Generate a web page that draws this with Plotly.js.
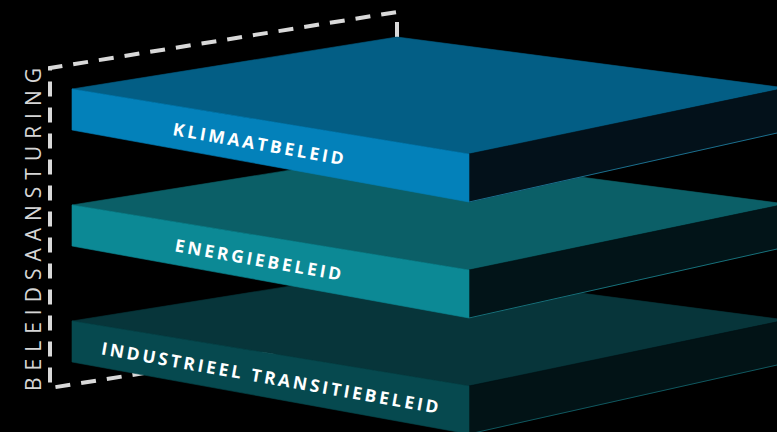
<!DOCTYPE html>
<html>
<head>
<meta charset="utf-8">
<script src="https://cdn.plot.ly/plotly-3.0.1.min.js"></script>
<style>html,body{margin:0;padding:0;background:#000;}#chart{width:777px;height:432px;}</style>
</head>
<body>
<div id="chart"></div>
<script>
// ---- data ----
const layers = ['KLIMAATBELEID', 'ENERGIEBELEID', 'INDUSTRIEEL TRANSITIEBELEID'];
const frontColors = ['#0381BA', '#0C8995', '#06494F'];
const topColors = ['#035E85', '#0B5F67', '#07353A'];
const sideColors = ['#03111A', '#021418', '#021316'];
const edgeColors = ['#1B6E8C', '#17707A', '#10575E'];
const axisLabel = 'BELEIDSAANSTURING';

// ---- drawing geometry (pixel-space axes) ----
const W = 777, H = 432;
const STEP = 116;            // vertical spacing between layers
const slab = {               // template for the top layer
  front: [[72, 89], [469, 154], [469, 202], [72, 130]],
  top:   [[72, 89], [397, 37], [786, 88], [469, 154]],
  side:  [[469, 154], [786, 88], [786, 131], [469, 202]],
  edge:  [[469, 202], [786, 131]]
};
const labelPos = [[258, 143], [258, 259], [270, 377]];

function poly(pts, dy, color) {
  const xs = pts.map(p => p[0]), ys = pts.map(p => p[1] + dy);
  xs.push(xs[0]); ys.push(ys[0]);
  return {x: xs, y: ys, type: 'scatter', mode: 'lines', fill: 'toself',
          fillcolor: color, line: {color: color, width: 0.6},
          hoverinfo: 'skip', showlegend: false};
}
function spaced(s, sep, wordSep) {
  return s.split('').map(c => c === ' ' ? wordSep : c).join(sep);
}

const traces = [];
// dashed back frame
traces.push({
  x: [397, 397, 50, 50, 397], y: [37, 12, 68, 388, 333],
  type: 'scatter', mode: 'lines',
  line: {color: '#d9d9d9', width: 4, dash: '15px,11px'},
  hoverinfo: 'skip', showlegend: false
});
// slabs, back to front (bottom layer first)
for (let i = layers.length - 1; i >= 0; i--) {
  const dy = i * STEP;
  traces.push(poly(slab.top, dy, topColors[i]));
  traces.push(poly(slab.side, dy, sideColors[i]));
  traces.push(poly(slab.front, dy, frontColors[i]));
  traces.push({
    x: slab.edge.map(p => p[0]), y: slab.edge.map(p => p[1] + dy),
    type: 'scatter', mode: 'lines', line: {color: edgeColors[i], width: 1},
    hoverinfo: 'skip', showlegend: false
  });
}

const annotations = layers.map((name, i) => ({
  x: labelPos[i][0], y: labelPos[i][1], xref: 'x', yref: 'y',
  text: spaced(name, '\u2009', '\u00A0'),
  showarrow: false, textangle: 10, xanchor: 'center', yanchor: 'middle',
  font: {family: 'Open Sans', size: 17.5, color: '#ffffff', weight: 'bold'}
}));
annotations.push({
  x: 33, y: 230, xref: 'x', yref: 'y',
  text: spaced(axisLabel, '\u2004', '\u2004\u2004'),
  showarrow: false, textangle: -90, xanchor: 'center', yanchor: 'middle',
  font: {family: 'Open Sans', size: 21, color: '#d6d6d6'}
});

const layout = {
  width: W, height: H,
  margin: {l: 0, r: 0, t: 0, b: 0, pad: 0},
  paper_bgcolor: '#000000', plot_bgcolor: '#000000',
  xaxis: {range: [0, W], visible: false, showgrid: false, zeroline: false, fixedrange: true},
  yaxis: {range: [H, 0], visible: false, showgrid: false, zeroline: false, fixedrange: true},
  showlegend: false,
  annotations: annotations
};

Plotly.newPlot('chart', traces, layout, {displayModeBar: false, staticPlot: true});
</script>
</body>
</html>
